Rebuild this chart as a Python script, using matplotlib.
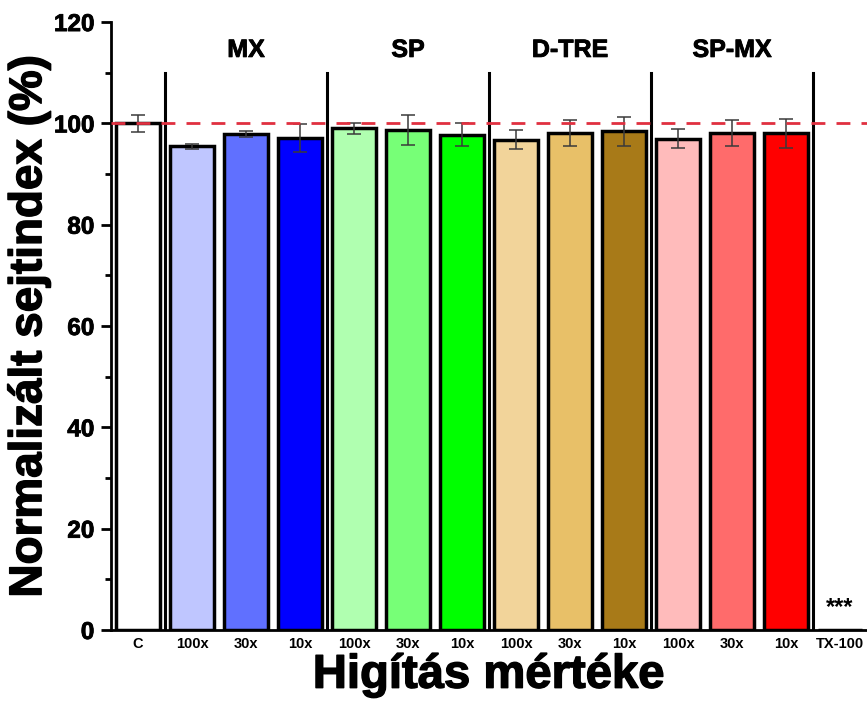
import matplotlib
matplotlib.use("Agg")
import matplotlib.pyplot as plt
import matplotlib.patheffects as pe
from matplotlib.ticker import MultipleLocator

plt.rcParams["font.family"] = ["Liberation Sans", "DejaVu Sans"]

categories = ["C", "100x", "30x", "10x", "100x", "30x", "10x", "100x", "30x", "10x",
              "100x", "30x", "10x", "TX-100"]
values = [100.0, 95.5, 97.9, 97.1, 99.0, 98.7, 97.8, 96.8, 98.1, 98.4, 97.0, 98.1, 98.0, 0.0]
errors = [1.7, 0.5, 0.5, 2.8, 1.1, 2.9, 2.3, 1.8, 2.5, 2.9, 1.8, 2.5, 2.8, 0.0]
colors = ["#FFFFFF", "#BFC6FF", "#6070FF", "#0000FF",
          "#B0FFB0", "#77FF77", "#00FF00",
          "#F2D49A", "#E8C068", "#A87A18",
          "#FFBBBB", "#FF6B6B", "#FF0000", "#FFFFFF"]
groups = ["MX", "SP", "D-TRE", "SP-MX"]
group_centers = [2, 5, 8, 11]
separators = [0.5, 3.5, 6.5, 9.5, 12.5]

heavy = [pe.withStroke(linewidth=1.0, foreground="black")]
med = [pe.withStroke(linewidth=0.6, foreground="black")]

fig = plt.figure(figsize=(8.67, 7.02), dpi=100)
ax = fig.add_axes([0.128, 0.1026, 0.872, 0.866])

x = list(range(len(categories)))
ax.bar(x, values, width=0.8, color=colors, edgecolor="black", linewidth=2.5, zorder=2)
ax.errorbar(x[:-1], values[:-1], yerr=errors[:-1], fmt="none", ecolor="#3a3a3a",
            elinewidth=1.1, capsize=5, capthick=1.1, zorder=3)

for s in separators:
    ax.plot([s, s], [0, 110], color="black", lw=2.2, zorder=4)

ax.axhline(100, color="#E03040", lw=2, dashes=(5, 4), zorder=5)

for g, c in zip(groups, group_centers):
    ax.text(c, 114.5, g, ha="center", va="center", fontsize=18, fontweight="bold",
            path_effects=med)

ax.text(13, 4.5, "***", ha="center", va="center", fontsize=17, fontweight="bold")

ax.set_xlim(-0.5, 13.5)
ax.set_ylim(0, 120)
ax.yaxis.set_major_locator(MultipleLocator(20))
ax.yaxis.set_minor_locator(MultipleLocator(10))
ax.set_xticks(x)
ax.set_xticklabels(categories, fontsize=10.5, fontweight="bold")
for lab in ax.get_yticklabels():
    lab.set_fontweight("bold")
    lab.set_path_effects(med)
ax.tick_params(axis="y", labelsize=17.5, width=2, length=7, direction="out", pad=5)
ax.tick_params(axis="y", which="minor", width=2, length=4)
ax.tick_params(axis="x", length=0, pad=5)

ax.spines["top"].set_visible(False)
ax.spines["right"].set_visible(False)
ax.spines["left"].set_linewidth(2)
ax.spines["bottom"].set_linewidth(2)

ylab = ax.set_ylabel("Normalizált sejtindex (%)", fontsize=33, fontweight="bold", labelpad=2)
ylab.set_path_effects(heavy)
xlab = ax.set_xlabel("Higítás mértéke", fontsize=34, fontweight="bold", labelpad=2)
xlab.set_path_effects(heavy)

fig.savefig("out.png", dpi=100)
